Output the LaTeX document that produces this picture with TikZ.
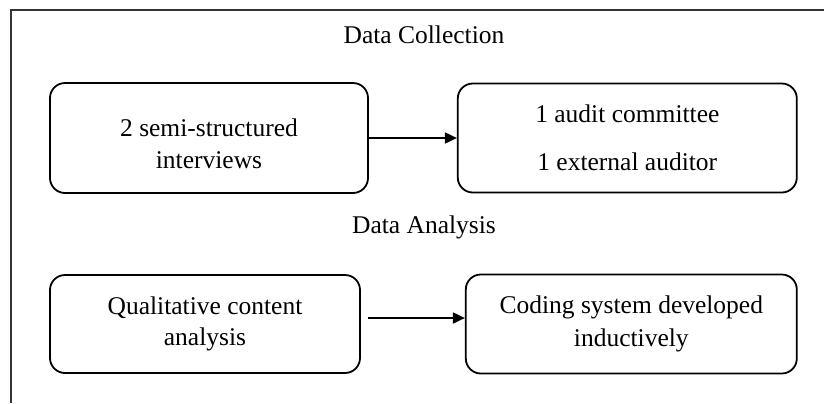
\documentclass[tikz,border=0pt]{standalone}
\usepackage{fontspec}
\setmainfont{Liberation Serif}
\usetikzlibrary{arrows.meta,positioning}

\begin{document}
\begin{tikzpicture}[
    x=0.5pt, y=-0.5pt,
    font=\fontsize{12.75}{15.5}\selectfont,
    heading/.style={inner sep=0pt, align=center},
    stage/.style={rectangle, draw, line width=0.9pt, rounded corners=7.5pt,
                  align=center, inner sep=2pt},
    frame/.style={line width=1.2pt, draw=black!80},
    arrow/.style={-{Triangle[length=6pt,width=5.5pt]}, line width=0.9pt},
]
    \useasboundingbox (0,0) rectangle (824,403);
    % outer frame (cut off at right and bottom)
    \draw[frame] (11,403) -- (11,10) -- (824,10);

    % data collection
    \node[stage, minimum width=159pt, minimum height=55pt, text height=31pt]
         (interviews) at (209,138) {2 semi-structured\\[0.5pt]interviews};
    \node[heading] (collect) at (424,35) {Data Collection};
    \node[stage, minimum width=169.5pt, minimum height=54.5pt, right=44pt of interviews]
         (people) {1 audit committee\\[8.5pt]1 external auditor};

    % data analysis
    \node[heading] (analysis) at (424,227) {Data Analysis};
    \node[stage, minimum width=155pt, minimum height=49pt] (content) at (205,324)
         {Qualitative content\\analysis};
    \node[stage, minimum width=165.5pt, minimum height=49.5pt, right=52pt of content]
         (coding) {Coding system developed\\[1pt]inductively};

    \draw[arrow] (interviews) -- (people);
    \draw[arrow] ([xshift=3.5pt,yshift=3pt]content.east) -- ([yshift=3pt]coding.west);
\end{tikzpicture}
\end{document}
